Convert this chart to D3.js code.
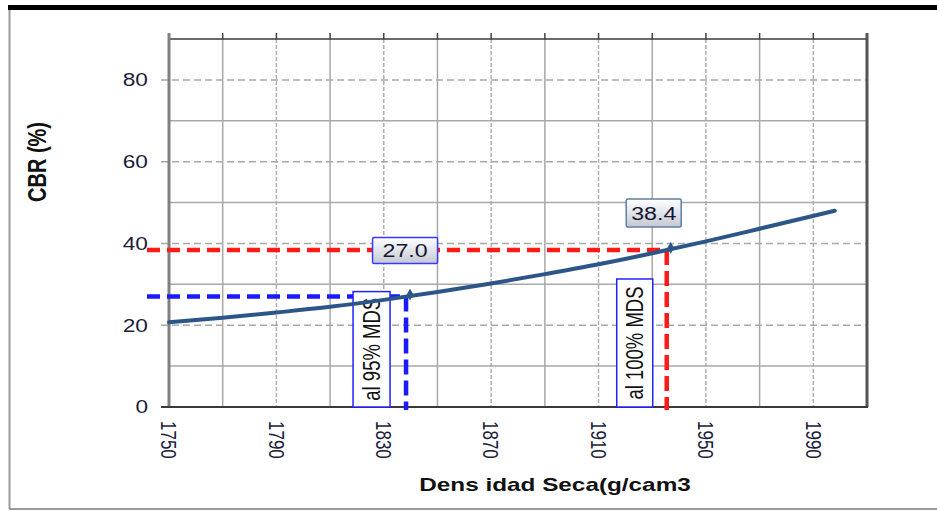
<!DOCTYPE html>
<html>
<head>
<meta charset="utf-8">
<script src="https://cdn.jsdelivr.net/npm/d3@7"></script>
<style>
  html, body { margin: 0; padding: 0; background: #fff; }
  svg { display: block; font-family: "Liberation Sans", Arial, sans-serif; }
</style>
</head>
<body>
<svg id="chart" width="937" height="511"></svg>
<script>
// Curve: CBR vs dry density
const density = [1750, 1770, 1790, 1810, 1830, 1850, 1870, 1890, 1910, 1930, 1950, 1970, 1998];
const cbr     = [20.7, 21.8, 23.1, 24.5, 26.2, 28.1, 30.2, 32.5, 34.9, 37.6, 40.5, 43.6, 48.0];

// Reference points (95% and 100% of maximum dry density)
const refDensity = [1838.3, 1935.4];
const refCbr     = [27.0, 38.4];
const refValueText = ["27.0", "38.4"];
const refNoteText  = ["al 95% MDS", "al 100% MDS"];
const refColors    = ["#1a1aff", "#ff1a1a"];

// Axes
const xTickLabels = [1750, 1790, 1830, 1870, 1910, 1950, 1990];
const xGrid = [1770, 1790, 1810, 1830, 1850, 1870, 1890, 1910, 1930, 1950, 1970, 1990];
const yTickLabels = [0, 20, 40, 60, 80];
const yGrid = [10, 20, 30, 40, 50, 60, 70, 80];
const xTitle = "Dens idad Seca(g/cam3";
const yTitle = "CBR (%)";

const svg = d3.select("#chart");
const L = 169, R = 867, T = 39, B = 407;
const SX = 1.26; // horizontal text stretch
const x = d3.scaleLinear().domain([1750, 2010]).range([L, R]);
const y = d3.scaleLinear().domain([0, 90]).range([B, T]);

// Outer border
svg.append("line").attr("x1", 9.5).attr("x2", 9.5).attr("y1", 9).attr("y2", 509)
  .attr("stroke", "#9a9a9a").attr("stroke-width", 2);
svg.append("line").attr("x1", 9).attr("x2", 937).attr("y1", 509).attr("y2", 509)
  .attr("stroke", "#9a9a9a").attr("stroke-width", 2);
svg.append("rect").attr("x", 8).attr("y", 5).attr("width", 929).attr("height", 5)
  .attr("fill", "#000");

// Gridlines
const isMajorX = d => xTickLabels.includes(d);
const isMajorY = d => yTickLabels.includes(d);
svg.append("g").selectAll("line").data(xGrid).join("line")
  .attr("x1", d => x(d)).attr("x2", d => x(d)).attr("y1", T).attr("y2", B)
  .attr("stroke", d => isMajorX(d) ? "#b0b0b0" : "#a8a8a8")
  .attr("stroke-width", 1.5)
  .attr("stroke-dasharray", d => isMajorX(d) ? "4,2" : null);
svg.append("g").selectAll("line").data(yGrid).join("line")
  .attr("x1", d => isMajorY(d) ? L - 8 : L).attr("x2", R).attr("y1", d => y(d)).attr("y2", d => y(d))
  .attr("stroke", d => isMajorY(d) ? "#a8a8a8" : "#a8a8a8")
  .attr("stroke-width", 1.5)
  .attr("stroke-dasharray", d => isMajorY(d) ? "7,4" : null);

// Top ticks
svg.append("g").selectAll("line").data([1750].concat(xGrid, [2010])).join("line")
  .attr("x1", d => x(d)).attr("x2", d => x(d)).attr("y1", T - 6).attr("y2", T)
  .attr("stroke", "#444").attr("stroke-width", 1.5);

// Plot frame
svg.append("line").attr("x1", L).attr("x2", R).attr("y1", T).attr("y2", T)
  .attr("stroke", "#3a3a3a").attr("stroke-width", 1.5);
svg.append("line").attr("x1", R).attr("x2", R).attr("y1", T - 6).attr("y2", B)
  .attr("stroke", "#555").attr("stroke-width", 3);
svg.append("line").attr("x1", L).attr("x2", L).attr("y1", T - 6).attr("y2", B)
  .attr("stroke", "#808080").attr("stroke-width", 3);
svg.append("line").attr("x1", L - 8).attr("x2", R + 1).attr("y1", B).attr("y2", B)
  .attr("stroke", "#3a3a3a").attr("stroke-width", 2);

// Y tick labels
svg.append("g").selectAll("text").data(yTickLabels).join("text")
  .attr("transform", d => `translate(148,${y(d)}) scale(${SX},1)`)
  .attr("text-anchor", "end").attr("dy", "0.36em")
  .attr("font-size", 18).attr("fill", "#1c1c3c").text(d => d);

// X tick labels (rotated)
svg.append("g").selectAll("text").data(xTickLabels).join("text")
  .attr("transform", d => `translate(${x(d)},421) scale(${SX},1) rotate(90)`)
  .attr("text-anchor", "start").attr("dy", "0.36em")
  .attr("font-size", 17).attr("fill", "#1c1c3c").text(d => d);

// Axis titles
svg.append("text")
  .attr("transform", `translate(37,162) scale(${SX},1) rotate(-90)`)
  .attr("text-anchor", "middle").attr("dy", "0.36em")
  .attr("font-size", 20).attr("font-weight", "bold").attr("fill", "#111").text(yTitle);
svg.append("text")
  .attr("transform", `translate(555,491) scale(1.28,1)`)
  .attr("text-anchor", "middle")
  .attr("font-size", 19).attr("font-weight", "bold").attr("fill", "#111").text(xTitle);

// Reference dashed guides
refDensity.forEach((dx, i) => {
  const g = svg.append("g").attr("stroke", refColors[i]).attr("stroke-width", 4.5)
    .attr("stroke-dasharray", "13,7").attr("fill", "none");
  g.append("line").attr("x1", L - 22).attr("x2", x(dx)).attr("y1", y(refCbr[i])).attr("y2", y(refCbr[i]));
  g.append("line").attr("x1", x(dx)).attr("x2", x(dx)).attr("y1", y(refCbr[i])).attr("y2", B + 3)
    .attr("stroke-dasharray", "15,6");
});

// Note boxes (vertical text)
const noteGeom = [{right: -16, top: -5, w: 37}, {right: -14, top: 29, w: 36}];
refDensity.forEach((dx, i) => {
  const gm = noteGeom[i];
  const x1 = x(dx) + gm.right, x0 = x1 - gm.w;
  const y0 = y(refCbr[i]) + gm.top;
  svg.append("rect").attr("x", x0).attr("y", y0).attr("width", gm.w).attr("height", B - y0)
    .attr("fill", "#fff").attr("stroke", "#2222ff").attr("stroke-width", 1.5);
  svg.append("text")
    .attr("transform", `translate(${(x0 + x1) / 2},${(y0 + B) / 2}) scale(${SX},1) rotate(-90)`)
    .attr("text-anchor", "middle").attr("dy", "0.36em")
    .attr("font-size", 18.5).attr("fill", "#111").text(refNoteText[i]);
});

// Curve
const line = d3.line().x((d, i) => x(density[i])).y((d, i) => y(cbr[i])).curve(d3.curveMonotoneX);
svg.append("path").datum(cbr).attr("d", line)
  .attr("fill", "none").attr("stroke", "#2c5687").attr("stroke-width", 4)
  .attr("stroke-linecap", "round");

// Point markers
svg.append("g").selectAll("path").data(refDensity).join("path")
  .attr("d", d3.symbol(d3.symbolDiamond, 40))
  .attr("transform", (d, i) => `translate(${x(d) + 4},${y(refCbr[i]) - 2})`)
  .attr("fill", "#2c5687");

// Value labels
const defs = svg.append("defs");
const grad = defs.append("linearGradient").attr("id", "lblFill").attr("x1", 0).attr("y1", 0).attr("x2", 0).attr("y2", 1);
grad.append("stop").attr("offset", "0%").attr("stop-color", "#ffffff");
grad.append("stop").attr("offset", "100%").attr("stop-color", "#c4c8d2");
const lblGeom = [{dx: -1, dy: -46, w: 65, h: 26, stroke: "#3a3aff"}, {dx: -13, dy: -37, w: 55, h: 28, stroke: "#5f7fa6"}];
refDensity.forEach((dx, i) => {
  const gm = lblGeom[i];
  const cx = x(dx) + gm.dx, cy = y(refCbr[i]) + gm.dy;
  svg.append("rect").attr("x", cx - gm.w / 2).attr("y", cy - gm.h / 2)
    .attr("width", gm.w).attr("height", gm.h).attr("rx", 1.5)
    .attr("fill", "url(#lblFill)").attr("stroke", gm.stroke).attr("stroke-width", 1.5);
  svg.append("text")
    .attr("transform", `translate(${cx},${cy}) scale(1.22,1)`)
    .attr("text-anchor", "middle").attr("dy", "0.36em")
    .attr("font-size", 19).attr("fill", "#151530").text(refValueText[i]);
});
</script>
</body>
</html>
